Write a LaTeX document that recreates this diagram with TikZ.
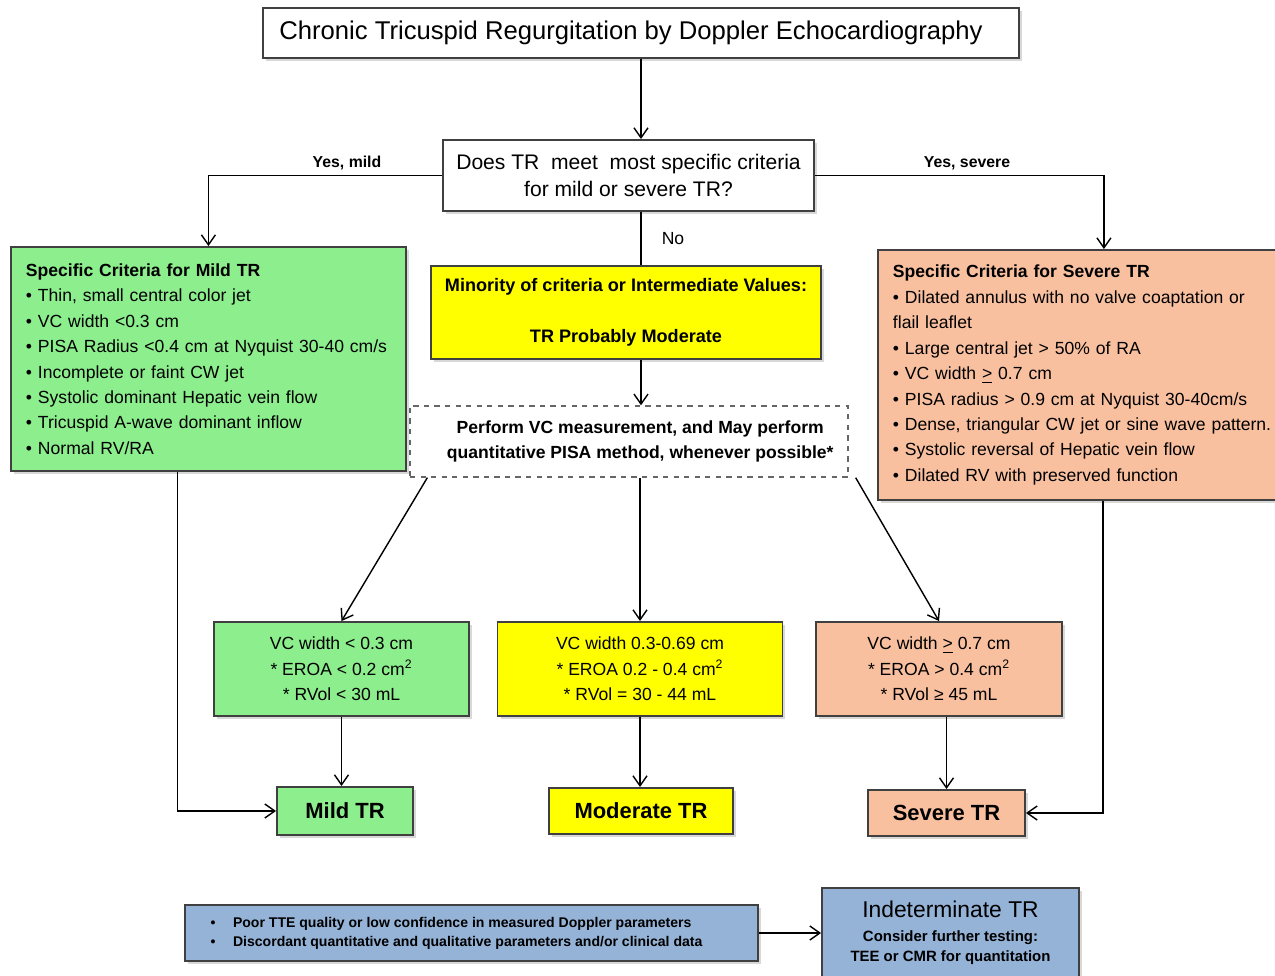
\documentclass[tikz,border=0pt]{standalone}
\usepackage{fontspec}
\setmainfont{Liberation Sans}
\usetikzlibrary{arrows.meta,shadows}

\definecolor{mildgreen}{RGB}{140,238,140}
\definecolor{modyellow}{RGB}{255,255,0}
\definecolor{sevsalmon}{RGB}{249,192,160}
\definecolor{indblue}{RGB}{149,179,215}

\begin{document}
\begin{tikzpicture}[x=0.02cm, y=-0.02cm,
    box/.style={draw=black!75, line width=1.1pt, inner sep=0pt, align=center,
        drop shadow={shadow xshift=0.06cm, shadow yshift=-0.06cm, fill=black!30}},
    crit/.style={box, anchor=west, align=left, inner xsep=0.3cm,
        font=\fontsize{10}{14.5}\selectfont},
    arr/.style={-{Straight Barb[length=2mm,width=2.8mm]}, line width=0.8pt},
    lbl/.style={font=\fontsize{9}{11}\selectfont\bfseries}]

    % 1. Kanvas
    \useasboundingbox (0,0) rectangle (1275,976);

    % 2. Judul dan pertanyaan
    \node[box, fill=white, minimum width=15.12cm, minimum height=1.0cm,
          font=\fontsize{14.6}{17}\selectfont] (title) at (641,33)
          {Chronic Tricuspid Regurgitation by Doppler Echocardiography\hspace{0.4cm}};
    \node[box, fill=white, minimum width=7.42cm, minimum height=1.42cm,
          font=\fontsize{12}{15.3}\selectfont] (ques) at (628.5,175.5)
          {Does TR\ \ meet\ \ most specific criteria\\for mild or severe TR?};

    % 3. Kriteria spesifik
    \node[crit, fill=mildgreen, text width=7.3cm, minimum width=7.88cm,
          minimum height=4.48cm] (mildcrit) at (10,359)
          {\textbf{Specific Criteria for Mild TR}\\
           • Thin, small central color jet\\
           • VC width <0.3 cm\\
           • PISA Radius <0.4 cm at Nyquist 30-40 cm/s\\
           • Incomplete or faint CW jet\\
           • Systolic dominant Hepatic vein flow\\
           • Tricuspid A-wave dominant inflow\\
           • Normal RV/RA};
    \node[crit, fill=sevsalmon, text width=7.7cm, minimum width=8.3cm,
          minimum height=5.0cm] (sevcrit) at (877,375)
          {\textbf{Specific Criteria for Severe TR}\\
           • Dilated annulus with no valve coaptation or\\
           flail leaflet\\
           • Large central jet > 50\% of RA\\
           • VC width \underline{>} 0.7 cm\\
           • PISA radius > 0.9 cm at Nyquist 30-40cm/s\\
           • Dense, triangular CW jet or sine wave pattern.\\
           • Systolic reversal of Hepatic vein flow\\
           • Dilated RV with preserved function};

    % 4. Nilai antara
    \node[box, fill=modyellow, minimum width=7.8cm, minimum height=1.86cm,
          font=\fontsize{10.3}{14.5}\selectfont\bfseries] (yel) at (626,312.5)
          {Minority of criteria or Intermediate Values:\\[14.5pt]TR Probably Moderate};
    \node[draw=black!60, dashed, line width=0.8pt, fill=white, inner sep=0pt,
          align=center, minimum width=8.76cm, minimum height=1.42cm,
          font=\fontsize{10}{14.2}\selectfont\bfseries] (dash) at (629,441.5)
          {\hspace*{0.45cm}Perform VC measurement, and May perform\\
           \hspace*{0.45cm}quantitative PISA method, whenever possible*};

    % 5. Nilai kuantitatif
    \node[box, fill=mildgreen, minimum width=5.1cm, minimum height=1.88cm,
          font=\fontsize{10}{14.5}\selectfont] (vcmild) at (341.5,669)
          {VC width < 0.3 cm\\* EROA < 0.2 cm\textsuperscript{2}\\* RVol < 30 mL};
    \node[box, fill=modyellow, minimum width=5.7cm, minimum height=1.88cm,
          font=\fontsize{10}{14.5}\selectfont] (vcmod) at (640,669)
          {VC width 0.3-0.69 cm\\* EROA 0.2 - 0.4 cm\textsuperscript{2}\\* RVol = 30 - 44 mL};
    \node[box, fill=sevsalmon, minimum width=4.92cm, minimum height=1.88cm,
          font=\fontsize{10}{14.5}\selectfont] (vcsev) at (939,669)
          {VC width \underline{>} 0.7 cm\\* EROA > 0.4 cm\textsuperscript{2}\\* RVol ≥ 45 mL};

    % 6. Hasil akhir
    \node[box, fill=mildgreen, minimum width=2.72cm, minimum height=0.96cm,
          font=\fontsize{12.5}{15}\selectfont\bfseries] (mild) at (345,811) {Mild TR};
    \node[box, fill=modyellow, minimum width=3.68cm, minimum height=0.92cm,
          font=\fontsize{12.5}{15}\selectfont\bfseries] (moderate) at (641,811) {Moderate TR};
    \node[box, fill=sevsalmon, minimum width=3.14cm, minimum height=0.92cm,
          font=\fontsize{12.5}{15}\selectfont\bfseries] (severe) at (946.5,813) {Severe TR};

    % 7. Tidak dapat ditentukan
    \node[box, fill=indblue, minimum width=11.46cm, minimum height=1.12cm,
          font=\fontsize{8}{11}\selectfont\bfseries] (poor) at (471.5,933)
          {\begin{tabular}{@{}l@{\hspace{10pt}}l@{}}
           • & Poor TTE quality or low confidence in measured Doppler parameters\\
           • & Discordant quantitative and qualitative parameters and/or clinical data
           \end{tabular}\hspace{0.6cm}};
    \node[box, fill=indblue, minimum width=5.14cm, minimum height=1.8cm,
          font=\fontsize{8.5}{11.3}\selectfont\bfseries] (indet) at (950.5,933)
          {{\fontsize{13}{15}\mdseries\selectfont Indeterminate TR}\\[2.5pt]
           Consider further testing:\\TEE or CMR for quantitation};

    % 8. Panah
    \draw[arr] (title.south) -- (title.south |- ques.north);
    \draw[arr] (ques.west) -| (mildcrit.north);
    \draw[arr] (ques.east) -| ([xshift=0.37cm]sevcrit.north);
    \draw[line width=0.8pt] (ques.south -| title.south) -- (title.south |- yel.north);
    \draw[arr] (yel.south -| title.south) -- (title.south |- dash.north);
    \draw[arr] ([xshift=0.36cm]dash.south west) -- (vcmild.north);
    \draw[arr] (dash.south -| vcmod.north) -- (vcmod.north);
    \draw[arr] ([xshift=0.14cm]dash.south east) -- (vcsev.north);
    \draw[arr] (vcmild.south) -- (vcmild.south |- mild.north);
    \draw[arr] (vcmod.south) -- (vcmod.south |- moderate.north);
    \draw[arr] (severe.north |- vcsev.south) -- (severe.north);
    \draw[arr] ([xshift=-0.62cm]mildcrit.south) |- (mild.west);
    \draw[arr] ([xshift=0.35cm]sevcrit.south) |- (severe.east);
    \draw[arr] (poor.east) -- (poor.east -| indet.west);

    % 9. Label cabang
    \node[lbl] (yesmild) at (347,163) {Yes, mild};
    \node[lbl] (yessev) at (967,163) {Yes, severe};
    \node[font=\fontsize{10}{12}\selectfont] (no) at (673,239) {No};

\end{tikzpicture}
\end{document}
